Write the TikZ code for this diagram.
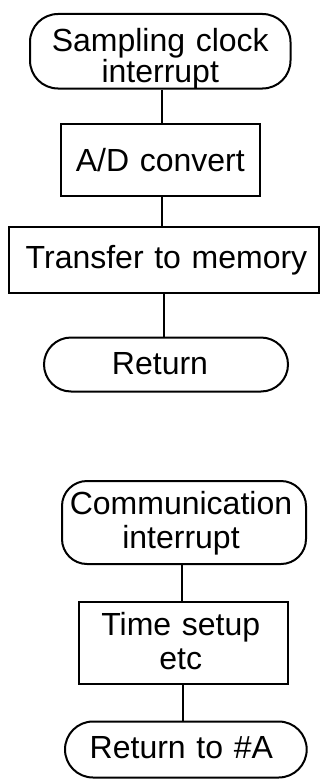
\documentclass[tikz,border=0pt]{standalone}
\usepackage{fontspec}
\setmainfont{Liberation Sans}
\begin{document}
\begin{tikzpicture}[x=1pt,y=-1pt,
  ink/.style={line width=2pt,draw=black},
  shapebox/.style={ink,inner sep=0pt,align=center},
  topfont/.style={font=\fontsize{32}{28}\selectfont},
  botfont/.style={font=\fontsize{32}{34}\selectfont},
  link/.style={ink}]
\useasboundingbox (0,0) rectangle (321,784);
% upper flow chart
\node[shapebox,topfont,rounded corners=28pt,minimum width=260.5pt,minimum height=74.5pt,
      text width=256pt,text height=20.75pt,text depth=19.25pt]
      (s1) at (160.25,51.25) {Sampling clock\\interrupt};
\node[shapebox,topfont,minimum width=198.5pt,minimum height=71.5pt,
      text width=194pt,text height=31.25pt,text depth=8.75pt]
      (s2) at (160.25,159.75) {A/D convert};
\node[shapebox,topfont,minimum width=310pt,minimum height=66pt,
      text width=306pt,text height=28.5pt,text depth=11.5pt]
      (s3) at (164,259.5) {\kern5pt Transfer to memory};
\node[shapebox,topfont,rounded corners=27pt,minimum width=244pt,minimum height=54pt,
      text width=240pt,text height=29.5pt,text depth=10.5pt]
      (s4) at (166,364.5) {Return\kern12pt};
% lower flow chart
\node[shapebox,botfont,rounded corners=25pt,minimum width=244pt,minimum height=83pt,
      text width=240pt,text height=11.5pt,text depth=28.5pt]
      (s5) at (184,522.5) {Communication\kern6pt\\interrupt\kern6pt};
\node[shapebox,botfont,minimum width=209pt,minimum height=81.5pt,
      text width=205pt,text height=12.25pt,text depth=27.75pt]
      (s6) at (183.8,642.75) {Time setup\kern6pt\\etc\kern6pt};
\node[shapebox,botfont,rounded corners=28pt,minimum width=241.7pt,minimum height=56pt,
      text width=237pt,text height=28.5pt,text depth=11.5pt]
      (s7) at (185.85,749.5) {Return to \#A\kern9pt};
% connectors
\draw[link] ([xshift=1.75pt]s1.south) -- ([xshift=1.75pt]s1.south |- s2.north);
\draw[link] ([xshift=1.75pt]s2.south) -- ([xshift=1.75pt]s2.south |- s3.north);
\draw[link] ([xshift=-0.5pt]s3.south) -- ([xshift=-0.5pt]s3.south |- s4.north);
\draw[link] ([xshift=-2pt]s5.south) -- ([xshift=-2pt]s5.south |- s6.north);
\draw[link] ([xshift=-0.5pt]s6.south) -- ([xshift=-0.5pt]s6.south |- s7.north);
\end{tikzpicture}
\end{document}
